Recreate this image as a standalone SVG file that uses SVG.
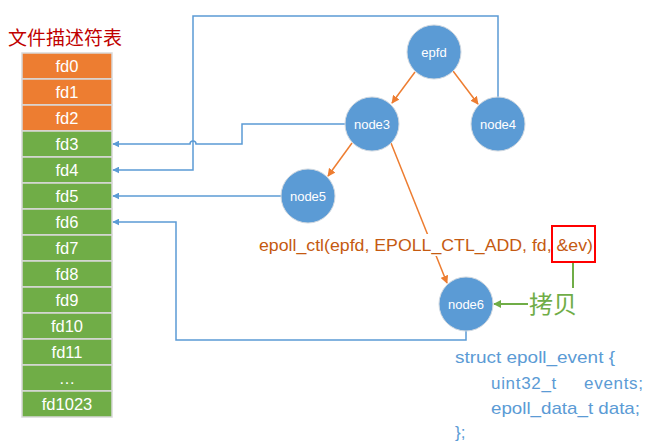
<svg xmlns="http://www.w3.org/2000/svg" width="664" height="447" viewBox="0 0 664 447">
<defs>
<marker id="ab" viewBox="0 0 10 10" refX="9" refY="5" markerWidth="7" markerHeight="7" markerUnits="userSpaceOnUse" orient="auto"><path d="M0,0 L10,5 L0,10 z" fill="#5B9BD5"/></marker>
<marker id="ao" viewBox="0 0 10 10" refX="9" refY="5" markerWidth="8" markerHeight="8" markerUnits="userSpaceOnUse" orient="auto"><path d="M0,0 L10,5 L0,10 z" fill="#ED7D31"/></marker>
<marker id="ag" viewBox="0 0 10 10" refX="9" refY="5" markerWidth="8" markerHeight="8" markerUnits="userSpaceOnUse" orient="auto"><path d="M0,0 L10,5 L0,10 z" fill="#70AD47"/></marker>
</defs>
<style>
.o{fill:#ED7D31}
.g{fill:#70AD47}
.cell{stroke:#D9D9D9;stroke-width:1.5}
.ft{font-family:"Liberation Sans",Arial,sans-serif;font-size:16.5px;fill:#FFFFFF;text-anchor:middle}
.nd{fill:#5B9BD5;stroke:#D0D8E0;stroke-width:1}
.nt{font-family:"Liberation Sans",Arial,sans-serif;font-size:13px;fill:#FFFFFF;text-anchor:middle}
.bl{fill:none;stroke:#5B9BD5;stroke-width:1.5;marker-end:url(#ab)}
.ol{fill:none;stroke:#ED7D31;stroke-width:1.5;marker-end:url(#ao)}
.st{font-family:"Liberation Sans",Arial,sans-serif;font-size:17px;fill:#5B9BD5}
</style>
<rect width="664" height="447" fill="#FFFFFF"/>
<text x="8" y="45" font-family="'Noto Sans CJK SC',sans-serif" font-size="19" fill="#C00000">文件描述符表</text>
<g id="fdtable">
<rect class="cell o" x="22" y="53" width="90" height="26"/>
<rect class="cell o" x="22" y="79" width="90" height="26"/>
<rect class="cell o" x="22" y="105" width="90" height="26"/>
<rect class="cell g" x="22" y="131" width="90" height="26"/>
<rect class="cell g" x="22" y="157" width="90" height="26"/>
<rect class="cell g" x="22" y="183" width="90" height="26"/>
<rect class="cell g" x="22" y="209" width="90" height="26"/>
<rect class="cell g" x="22" y="235" width="90" height="26"/>
<rect class="cell g" x="22" y="261" width="90" height="26"/>
<rect class="cell g" x="22" y="287" width="90" height="26"/>
<rect class="cell g" x="22" y="313" width="90" height="26"/>
<rect class="cell g" x="22" y="339" width="90" height="26"/>
<rect class="cell g" x="22" y="365" width="90" height="26"/>
<rect class="cell g" x="22" y="391" width="90" height="26"/>
<text class="ft" x="67" y="72">fd0</text>
<text class="ft" x="67" y="98">fd1</text>
<text class="ft" x="67" y="124">fd2</text>
<text class="ft" x="67" y="150">fd3</text>
<text class="ft" x="67" y="176">fd4</text>
<text class="ft" x="67" y="202">fd5</text>
<text class="ft" x="67" y="228">fd6</text>
<text class="ft" x="67" y="254">fd7</text>
<text class="ft" x="67" y="280">fd8</text>
<text class="ft" x="67" y="306">fd9</text>
<text class="ft" x="67" y="332">fd10</text>
<text class="ft" x="67" y="358">fd11</text>
<text class="ft" x="67" y="384">…</text>
<text class="ft" x="67" y="410">fd1023</text>
</g>
<g id="connectors">
<path class="bl" d="M498,98 V16 H193 V170 H113"/>
<path class="bl" d="M345,124 H242 V144 H196 A3,3 0 0 0 190,144 H113"/>
<path class="bl" d="M281,196 H113"/>
<path class="bl" d="M466,331 V340 H176 V222 H113"/>
<line class="ol" x1="415" y1="72" x2="392" y2="103"/>
<line class="ol" x1="453" y1="71" x2="478" y2="104"/>
<line class="ol" x1="352" y1="143" x2="328" y2="176"/>
<line class="ol" x1="391" y1="143" x2="447" y2="283"/>
<line x1="573" y1="263" x2="573" y2="288" stroke="#70AD47" stroke-width="2"/>
<line x1="528" y1="304" x2="494" y2="304" stroke="#70AD47" stroke-width="2" marker-end="url(#ag)"/>
</g>
<g id="epfd"><circle class="nd" cx="434" cy="52" r="27"/><text class="nt" x="434" y="57">epfd</text></g>
<g id="node3"><circle class="nd" cx="372" cy="124" r="27"/><text class="nt" x="372" y="129">node3</text></g>
<g id="node4"><circle class="nd" cx="498" cy="124" r="27"/><text class="nt" x="498" y="129">node4</text></g>
<g id="node5"><circle class="nd" cx="308" cy="196" r="27"/><text class="nt" x="308" y="201">node5</text></g>
<g id="node6"><circle class="nd" cx="466" cy="304" r="27"/><text class="nt" x="466" y="309">node6</text></g>
<g id="call">
<rect x="257" y="234" width="295" height="22" fill="#FFFFFF"/>
<text x="259" y="251" font-family="'Liberation Sans',Arial,sans-serif" font-size="17" fill="#C55A11" textLength="334" lengthAdjust="spacingAndGlyphs">epoll_ctl(epfd, EPOLL_CTL_ADD, fd, &amp;ev)</text>
<rect x="552" y="226" width="43" height="36" fill="none" stroke="#FF0000" stroke-width="2"/>
</g>
<text x="529" y="313" font-family="'Noto Sans CJK SC',sans-serif" font-size="24" fill="#70AD47">拷贝</text>
<g id="struct">
<text class="st" x="455" y="363" textLength="160" lengthAdjust="spacingAndGlyphs">struct epoll_event {</text>
<text class="st" x="491" y="389" xml:space="preserve" textLength="152" lengthAdjust="spacing">uint32_t     events;</text>
<text class="st" x="491" y="414" textLength="149" lengthAdjust="spacingAndGlyphs">epoll_data_t data;</text>
<text class="st" x="455" y="438">};</text>
</g>
</svg>
